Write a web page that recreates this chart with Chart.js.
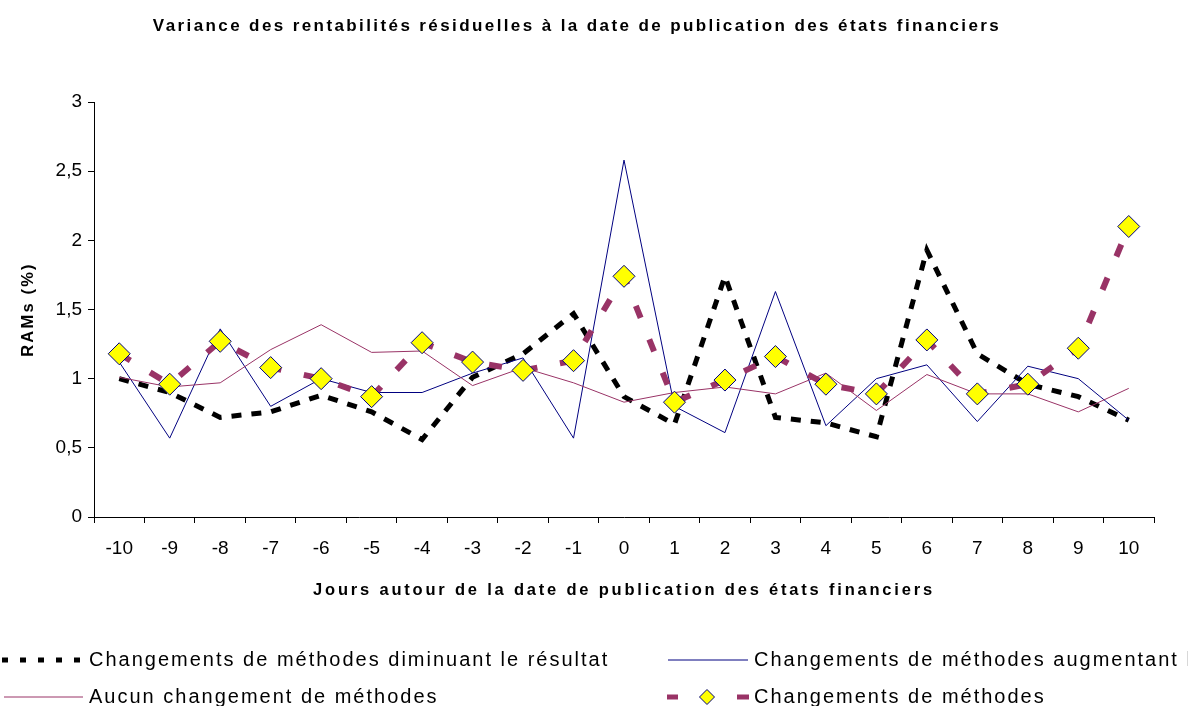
<!DOCTYPE html>
<html lang="fr">
<head>
<meta charset="utf-8">
<title>Variance des rentabilités résiduelles</title>
<script src="https://cdn.jsdelivr.net/npm/chart.js@4.4.1/dist/chart.umd.min.js"></script>
<style>
  html, body { margin: 0; padding: 0; background: #fff; }
  #wrap { width: 1188px; height: 706px; }
</style>
</head>
<body>
<div id="wrap"><canvas id="chart" width="1188" height="706"></canvas></div>
<script>
// --- Data ---
const days = ['-10', '-9', '-8', '-7', '-6', '-5', '-4', '-3', '-2', '-1', '0',
              '1', '2', '3', '4', '5', '6', '7', '8', '9', '10'];

const diminuant   = [1.00, 0.90, 0.72, 0.76, 0.88, 0.76, 0.56, 1.01, 1.18, 1.47, 0.87,
                     0.67, 1.74, 0.72, 0.68, 0.58, 1.93, 1.18, 0.96, 0.87, 0.70];
const augmentant  = [1.12, 0.57, 1.36, 0.80, 1.00, 0.90, 0.90, 1.04, 1.15, 0.57, 2.58,
                     0.80, 0.61, 1.63, 0.66, 1.00, 1.10, 0.69, 1.09, 1.00, 0.70];
const aucun       = [1.01, 0.94, 0.97, 1.21, 1.39, 1.19, 1.20, 0.95, 1.08, 0.97, 0.83,
                     0.90, 0.94, 0.89, 1.04, 0.77, 1.03, 0.89, 0.89, 0.76, 0.93];
const changements = [1.18, 0.96, 1.27, 1.08, 1.00, 0.87, 1.26, 1.12, 1.06, 1.13, 1.74,
                     0.83, 0.99, 1.16, 0.96, 0.89, 1.28, 0.89, 0.96, 1.22, 2.10];

const yTickLabels = ['0', '0,5', '1', '1,5', '2', '2,5', '3'];

const seriesLabels = [
  'Changements de méthodes diminuant le résultat',
  'Changements de méthodes augmentant le résultat',
  'Aucun changement de méthodes',
  'Changements de méthodes'
];

const titleText = 'Variance des rentabilités résiduelles à la date de publication des états financiers';
const xTitleText = 'Jours autour de la date de publication des états financiers';
const yTitleText = 'RAMs (%)';

const FONT = '"Liberation Sans", Arial, sans-serif';

// --- Titles + legend drawn with letter spacing (like the original export) ---
const textPlugin = {
  id: 'texts',
  afterDraw(chart) {
    const { ctx, chartArea } = chart;
    const ds = chart.data.datasets;
    ctx.save();
    ctx.fillStyle = '#000';
    ctx.textBaseline = 'middle';

    // chart title
    ctx.textAlign = 'center';
    ctx.font = 'bold 17px ' + FONT;
    ctx.letterSpacing = '2.4px';
    ctx.fillText(titleText, 577, 26);

    // x axis title
    ctx.font = 'bold 16.5px ' + FONT;
    ctx.letterSpacing = '2.8px';
    ctx.fillText(xTitleText, (chartArea.left + chartArea.right) / 2, 590);

    // y axis title
    ctx.save();
    ctx.translate(28, (chartArea.top + chartArea.bottom) / 2);
    ctx.rotate(-Math.PI / 2);
    ctx.letterSpacing = '2.2px';
    ctx.fillText(yTitleText, 0, 0);
    ctx.restore();

    // legend
    ctx.textAlign = 'left';
    ctx.font = '20px ' + FONT;
    ctx.letterSpacing = '2px';
    const entries = [
      { i: 0, x: 2,   y: 660, w: 84, tx: 89 },
      { i: 1, x: 668, y: 660, w: 80, tx: 754 },
      { i: 2, x: 4,   y: 697, w: 79, tx: 89 },
      { i: 3, x: 667, y: 697, w: 82, tx: 754 }
    ];
    entries.forEach(e => {
      const d = ds[e.i];
      ctx.save();
      ctx.strokeStyle = d.borderColor;
      ctx.lineWidth = d.borderWidth;
      ctx.lineCap = 'butt';
      if (e.i === 0) {
        ctx.setLineDash([6, 12]);
        ctx.beginPath();
        ctx.moveTo(e.x, e.y);
        ctx.lineTo(e.x + e.w, e.y);
        ctx.stroke();
      } else if (e.i === 3) {
        ctx.lineWidth = 5;
        ctx.beginPath();
        ctx.moveTo(e.x, e.y); ctx.lineTo(e.x + 11, e.y);
        ctx.moveTo(e.x + e.w - 12, e.y); ctx.lineTo(e.x + e.w, e.y);
        ctx.stroke();
        // small diamond marker
        const cx = e.x + 40, r = 7.5;
        ctx.fillStyle = d.pointBackgroundColor;
        ctx.strokeStyle = d.pointBorderColor;
        ctx.lineWidth = 1;
        ctx.beginPath();
        ctx.moveTo(cx - r, e.y);
        ctx.lineTo(cx, e.y - r);
        ctx.lineTo(cx + r, e.y);
        ctx.lineTo(cx, e.y + r);
        ctx.closePath();
        ctx.fill();
        ctx.stroke();
      } else {
        ctx.beginPath();
        ctx.moveTo(e.x, e.y);
        ctx.lineTo(e.x + e.w, e.y);
        ctx.stroke();
      }
      ctx.restore();
      ctx.fillStyle = '#000';
      ctx.fillText(seriesLabels[e.i], e.tx, e.y);
    });
    ctx.restore();
  }
};

const ctx = document.getElementById('chart').getContext('2d');

new Chart(ctx, {
  type: 'line',
  data: {
    labels: days,
    datasets: [
      {
        label: seriesLabels[0],
        data: diminuant,
        borderColor: '#000000',
        borderWidth: 5,
        borderDash: [10, 10],
        pointRadius: 0,
        order: 4
      },
      {
        label: seriesLabels[1],
        data: augmentant,
        borderColor: '#000080',
        borderWidth: 1,
        pointRadius: 0,
        order: 3
      },
      {
        label: seriesLabels[2],
        data: aucun,
        borderColor: '#993366',
        borderWidth: 1,
        pointRadius: 0,
        order: 2
      },
      {
        label: seriesLabels[3],
        data: changements,
        borderColor: '#993366',
        borderWidth: 6,
        borderDash: [13, 23],
        pointStyle: 'rectRot',
        pointRadius: 11,
        pointBackgroundColor: '#FFFF00',
        pointBorderColor: '#000080',
        pointBorderWidth: 1,
        order: 1
      }
    ]
  },
  options: {
    responsive: false,
    animation: false,
    layout: { padding: { left: 34, right: 34, top: 102, bottom: 149 } },
    plugins: {
      legend: { display: false },
      title: { display: false },
      tooltip: { enabled: false }
    },
    scales: {
      x: {
        offset: true,
        grid: { offset: true, drawOnChartArea: false, color: '#000', tickLength: 6 },
        border: { color: '#000', width: 1 },
        ticks: { color: '#000', font: { family: FONT, size: 19 }, padding: 14, maxRotation: 0, autoSkip: false },
        afterFit: scale => { scale.height = 40; }
      },
      y: {
        min: 0,
        max: 3,
        grid: { drawOnChartArea: false, color: '#000', tickLength: 6 },
        border: { color: '#000', width: 1 },
        ticks: {
          stepSize: 0.5,
          color: '#000',
          font: { family: FONT, size: 19 },
          padding: 6,
          callback: (v, i) => yTickLabels[i]
        },
        afterFit: scale => { scale.width = 60; }
      }
    }
  },
  plugins: [textPlugin]
});
</script>
</body>
</html>
